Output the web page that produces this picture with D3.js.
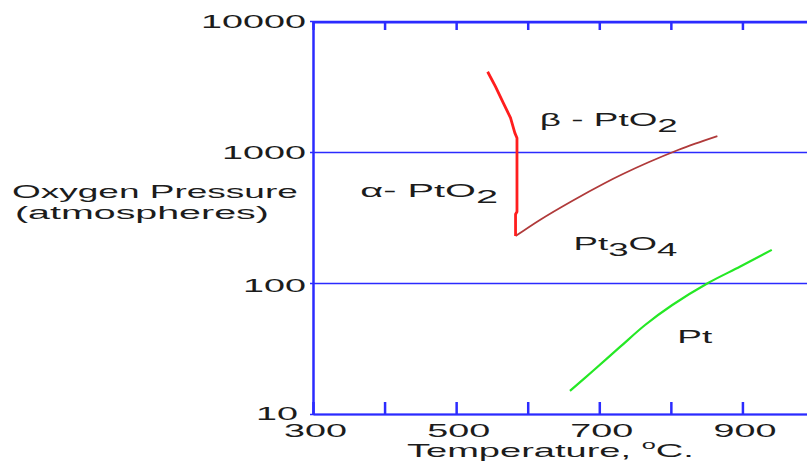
<!DOCTYPE html>
<html>
<head>
<meta charset="utf-8">
<script src="https://cdn.jsdelivr.net/npm/d3@7"></script>
<style>
  html, body { margin: 0; padding: 0; background: #fff; }
  svg { display: block; }
  text { font-family: "Liberation Sans", Arial, sans-serif; fill: #1c1c1c; }
</style>
</head>
<body>
<svg id="chart" width="807" height="463"></svg>
<script>
// Axis ticks
const tempTicks = [300, 400, 500, 600, 700, 800, 900, 1000];
const tempLabels = [300, 500, 700, 900];
const pressureTicks = [10, 100, 1000, 10000];

// Phase boundaries, [temperature °C, oxygen pressure atm]
const pto2Boundary = [[544, 4100], [555, 3150], [566, 2360], [576, 1820], [582, 1400], [585, 1280], [585, 350], [583, 335], [583, 228]];
const pt3o4Boundary = [[583, 228], [617, 303], [662, 423], [708, 580], [733, 679], [768, 831], [810, 1036], [834, 1159], [865, 1324]];
const ptBoundary = [[659, 15], [691, 21.3], [729, 32.5], [764, 47.8], [802, 67.9], [852, 100], [897, 133.6], [941, 179]];

// Phase field names: text runs, second entry marks a subscript
const phaseNames = [
  [["β - PtO", 0], ["2", 1]],
  [["α- PtO", 0], ["2", 1]],
  [["Pt", 0], ["3", 1], ["O", 0], ["4", 1]],
  [["Pt", 0]]
];
const phaseAnchors = [[617, 1580], [366, 453], [664, 179], [809, 34.8]];
const phaseWidths = [138, 138, 104, 35];

const svg = d3.select("#chart");
const x = d3.scaleLinear().domain([300, 1000]).range([313, 814]);
const y = d3.scaleLog().domain([10, 10000]).range([414, 21]);
const blue = "#2b2bff";

// Stretch a text horizontally about its anchor so it spans the given width
function stretch(node, width) {
  const t = d3.select(node);
  const w = node.getBBox().width;
  const s = width / w;
  const ax = +t.attr("x") || 0, ay = +t.attr("y") || 0;
  t.attr("transform", `translate(${ax},${ay}) scale(${s},1) translate(${-ax},${-ay})`);
}

const plot = svg.append("g");

// Grid lines and left axis
const yAxis = d3.axisLeft(y)
  .tickValues(pressureTicks)
  .tickSizeInner(-(807 - 313))
  .tickSizeOuter(0)
  .tickFormat(d3.format("d"));
const gy = plot.append("g").attr("transform", "translate(313,0)").call(yAxis);
gy.select(".domain").attr("stroke", blue).attr("stroke-width", 2.5);
gy.selectAll(".tick line").attr("stroke", blue).attr("stroke-width", 1.6).attr("x1", -3);
gy.selectAll(".tick text")
  .attr("font-size", 18)
  .attr("x", d => d === 10 ? -15 : -7)
  .attr("y", d => d === 10 ? -1 : (d === 100 ? 2 : 0))
  .attr("dy", "0.36em")
  .style("font-family", null)
  .each(function(d) { stretch(this, String(d).length * 21); });

// Bottom axis with inward ticks
const xAxis = d3.axisBottom(x)
  .tickValues(tempTicks)
  .tickSizeInner(-12)
  .tickSizeOuter(0)
  .tickFormat(d => tempLabels.includes(d) ? String(d) : "");
const gx = plot.append("g").attr("transform", "translate(0,414)").call(xAxis);
gx.select(".domain").attr("stroke", blue).attr("stroke-width", 2);
gx.selectAll(".tick line").attr("stroke", blue).attr("stroke-width", 2.5);
gx.selectAll(".tick text")
  .attr("font-size", 18)
  .attr("x", 2)
  .attr("y", 23)
  .attr("dy", 0)
  .each(function(d) { if (tempLabels.includes(d)) stretch(this, String(d).length * 21); });

// Top border with inward ticks
const xTop = d3.axisTop(x)
  .tickValues(tempTicks)
  .tickSizeInner(-8)
  .tickSizeOuter(0)
  .tickFormat("");
const gt = plot.append("g").attr("transform", "translate(0,22)").call(xTop);
gt.select(".domain").attr("stroke", blue).attr("stroke-width", 2);
gt.selectAll(".tick line").attr("stroke", blue).attr("stroke-width", 2.5);

// Boundary curves
const line = d3.line().x(d => x(d[0])).y(d => y(d[1]));
const smooth = d3.line().x(d => x(d[0])).y(d => y(d[1])).curve(d3.curveCatmullRom.alpha(0.5));
plot.append("path").datum(pt3o4Boundary).attr("d", smooth)
  .attr("fill", "none").attr("stroke", "#b03a3a").attr("stroke-width", 1.8);
plot.append("path").datum(pto2Boundary).attr("d", line)
  .attr("fill", "none").attr("stroke", "#ff1e1e").attr("stroke-width", 2.8).attr("stroke-linejoin", "round");
plot.append("path").datum(ptBoundary).attr("d", smooth)
  .attr("fill", "none").attr("stroke", "#25e825").attr("stroke-width", 2.2);

// Phase field names
phaseNames.forEach((runs, i) => {
  const [T, P] = phaseAnchors[i];
  const t = plot.append("text")
    .attr("x", x(T)).attr("y", y(P))
    .attr("font-size", 18);
  let shifted = false;
  runs.forEach(([s, sub]) => {
    const ts = t.append("tspan").text(s);
    if (sub && !shifted) { ts.attr("dy", 6); shifted = true; }
    else if (!sub && shifted) { ts.attr("dy", -6); shifted = false; }
  });
  stretch(t.node(), phaseWidths[i]);
});

// Axis titles
const yt1 = svg.append("text").attr("x", 12).attr("y", 198).attr("font-size", 18).text("Oxygen Pressure");
stretch(yt1.node(), 286);
const yt2 = svg.append("text").attr("x", 15).attr("y", 219).attr("font-size", 18).text("(atmospheres)");
stretch(yt2.node(), 254);

const xt = svg.append("text").attr("x", 407).attr("y", 457).attr("font-size", 18);
xt.append("tspan").text("Temperature, ");
xt.append("tspan").attr("font-size", 12).attr("dy", -8).text("o");
xt.append("tspan").attr("dy", 8).text("C.");
stretch(xt.node(), 287);
</script>
</body>
</html>
